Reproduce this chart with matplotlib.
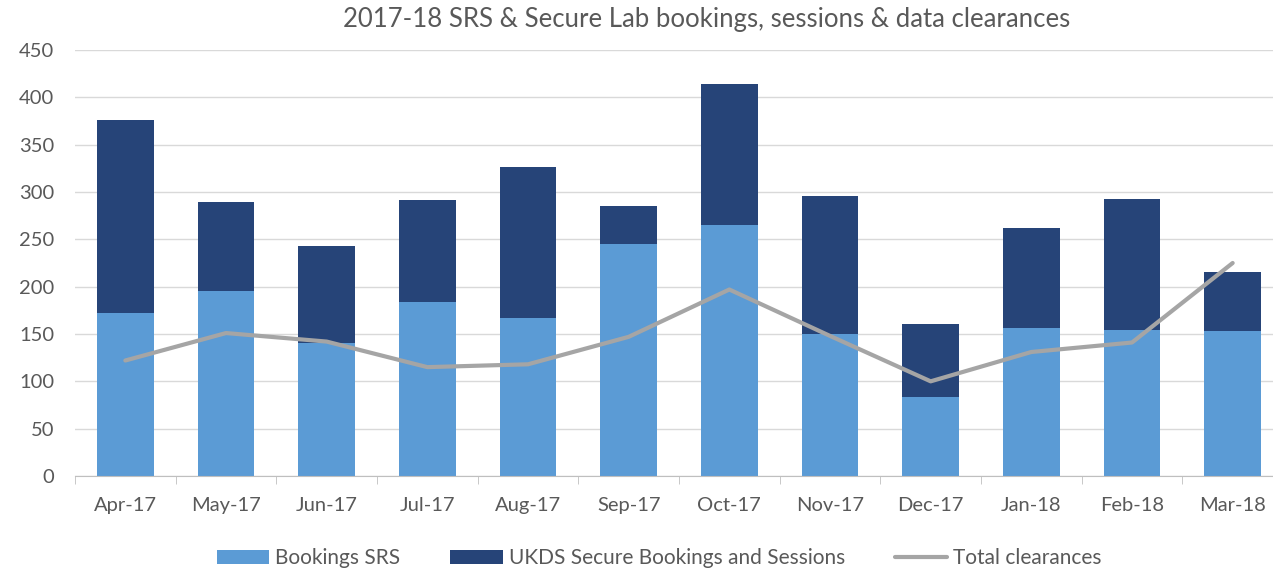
import matplotlib
matplotlib.use("Agg")
import matplotlib.pyplot as plt
import numpy as np

months = ["Apr-17", "May-17", "Jun-17", "Jul-17", "Aug-17", "Sep-17",
          "Oct-17", "Nov-17", "Dec-17", "Jan-18", "Feb-18", "Mar-18"]
bookings_srs = [172, 195, 141, 184, 167, 245, 265, 150, 83, 156, 154, 153]
totals_stack = [376, 289, 243, 292, 326, 285, 414, 296, 161, 262, 293, 215]
ukds_secure = [t - s for t, s in zip(totals_stack, bookings_srs)]
total_clearances = [122, 151, 142, 115, 118, 147, 197, 148, 100, 131, 141, 225]
yticks = [0, 50, 100, 150, 200, 250, 300, 350, 400, 450]

plt.rcParams['font.family'] = ['Lato', 'DejaVu Sans']

fig = plt.figure(figsize=(12.73, 5.71), dpi=100)
ax = fig.add_axes([75/1273, 95/571, 1208/1273, 426/571])

x = np.arange(len(months))
w = 0.566
b1 = ax.bar(x, bookings_srs, w, color="#5B9BD5", label="Bookings SRS", zorder=2)
b2 = ax.bar(x, ukds_secure, w, bottom=bookings_srs, color="#264478",
            label="UKDS Secure Bookings and Sessions", zorder=2)
ln, = ax.plot(x, total_clearances, color="#A5A5A5", lw=3, label="Total clearances",
              zorder=3, solid_capstyle="round")

ax.set_xlim(-0.5, len(months) - 0.5)
ax.set_ylim(0, 450)
ax.set_yticks(yticks)
ax.yaxis.grid(True, color="#D9D9D9", lw=1, zorder=0)
ax.set_axisbelow(True)
for s in ["top", "right", "left"]:
    ax.spines[s].set_visible(False)
ax.spines["bottom"].set_color("#BFBFBF")
ax.tick_params(axis="y", length=0, labelsize=14.5, labelcolor="#595959", pad=15)
ax.set_xticks(x)
ax.set_xticklabels(months)
ax.tick_params(axis="x", length=0, labelsize=14.5, labelcolor="#595959", pad=15)
ax.set_xticks(np.arange(-0.5, len(months), 1), minor=True)
ax.tick_params(axis="x", which="minor", length=6, color="#BFBFBF")

fig.text(0.555, 0.966, "2017-18 SRS & Secure Lab bookings, sessions & data clearances",
         ha="center", va="center", fontsize=18.5, color="#595959")

fig.legend([b1, b2, ln], ["Bookings SRS", "UKDS Secure Bookings and Sessions", "Total clearances"],
           loc="center", bbox_to_anchor=(0.518, 0.022), ncol=3, frameon=False,
           fontsize=15, labelcolor="#595959", columnspacing=2.4,
           handlelength=2.5, handletextpad=0.3, borderaxespad=0, borderpad=0)

fig.savefig("out.png", dpi=100)
